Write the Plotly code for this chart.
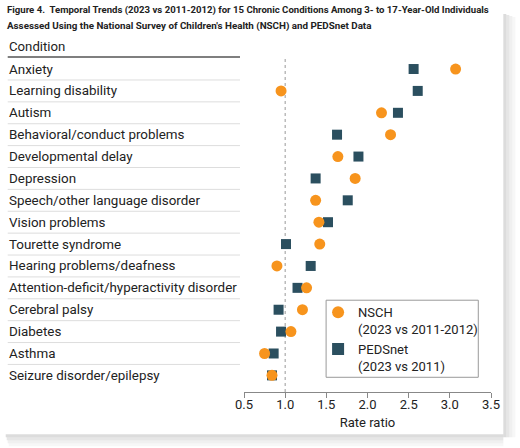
import plotly.graph_objects as go

conditions = [
    "Anxiety",
    "Learning disability",
    "Autism",
    "Behavioral/conduct problems",
    "Developmental delay",
    "Depression",
    "Speech/other language disorder",
    "Vision problems",
    "Tourette syndrome",
    "Hearing problems/deafness",
    "Attention-deficit/hyperactivity disorder",
    "Cerebral palsy",
    "Diabetes",
    "Asthma",
    "Seizure disorder/epilepsy",
]
nsch = [3.07, 0.95, 2.17, 2.28, 1.64, 1.85, 1.37, 1.41, 1.42, 0.90, 1.26, 1.21, 1.07, 0.75, 0.84]
pedsnet = [2.56, 2.61, 2.37, 1.63, 1.89, 1.37, 1.76, 1.52, 1.01, 1.31, 1.15, 0.92, 0.95, 0.86, 0.84]
tick_vals = [0.5, 1.0, 1.5, 2.0, 2.5, 3.0, 3.5]
tick_text = ["0.5", "1.0", "1.5", "2.0", "2.5", "3.0", "3.5"]

W, H = 520, 448
L, R = 244, 490.7
T, B = 57, 391.7
FONT = "Roboto"
TXT = "#222222"
ORANGE = "#f7941d"
TEAL = "#2b4f5f"


def px2x(px):
    return (px - L) / (R - L)


def py2y(py):
    return (B - py) / (B - T)


rows = list(range(len(conditions)))

fig = go.Figure()
fig.add_trace(go.Scatter(
    x=pedsnet, y=rows, mode="markers", name="PEDSnet<br>(2023 vs 2011)",
    marker=dict(symbol="square", size=10, color=TEAL), legendrank=2,
))
fig.add_trace(go.Scatter(
    x=nsch, y=rows, mode="markers", name="NSCH<br>(2023 vs 2011-2012)",
    marker=dict(symbol="circle", size=11, color=ORANGE), legendrank=1,
))

shapes = []
# card shadow
for i, op in enumerate([0.35, 0.25, 0.15, 0.08]):
    shapes.append(dict(type="rect", xref="paper", yref="paper",
                       x0=px2x(503 + i * 3), x1=px2x(506 + i * 3),
                       y0=py2y(437), y1=py2y(14 + i),
                       fillcolor="#9a9a9a", opacity=op, line=dict(width=0), layer="below"))
    shapes.append(dict(type="rect", xref="paper", yref="paper",
                       x0=px2x(6 + i), x1=px2x(503),
                       y0=py2y(434 + i * 3), y1=py2y(437 + i * 3),
                       fillcolor="#9a9a9a", opacity=op, line=dict(width=0), layer="below"))
# header rule
shapes.append(dict(type="line", xref="paper", yref="paper",
                   x0=px2x(8), x1=px2x(240), y0=1, y1=1,
                   line=dict(color="#555555", width=1.5)))
# row separators
for k in rows[:-1]:
    shapes.append(dict(type="line", xref="paper", yref="y",
                       x0=px2x(8), x1=px2x(240), y0=k + 0.5, y1=k + 0.5,
                       line=dict(color="#dddddd", width=1)))
# reference line at 1.0
shapes.append(dict(type="line", xref="x", yref="paper", x0=1.0, x1=1.0, y0=0, y1=1,
                   line=dict(color="#999999", width=1, dash="dot"), layer="below"))
# legend frame
shapes.append(dict(type="rect", xref="paper", yref="paper",
                   x0=px2x(326), x1=px2x(478), y0=py2y(377), y1=py2y(300),
                   fillcolor="white", line=dict(color="#999999", width=1), layer="below"))

annotations = [
    dict(xref="paper", yref="paper", x=px2x(5), y=py2y(10), xanchor="left", yanchor="middle",
         showarrow=False, align="left",
         text="<b>Figure 4.  Temporal Trends (2023 vs 2011-2012) for 15 Chronic Conditions Among 3- to 17-Year-Old Individuals</b>",
         font=dict(family=FONT, size=9.6, color=TXT)),
    dict(xref="paper", yref="paper", x=px2x(5), y=py2y(26), xanchor="left", yanchor="middle",
         showarrow=False, align="left",
         text="<b>Assessed Using the National Survey of Children's Health (NSCH) and PEDSnet Data</b>",
         font=dict(family=FONT, size=9.8, color=TXT)),
    dict(xref="paper", yref="paper", x=px2x(7), y=py2y(47), xanchor="left", yanchor="middle",
         showarrow=False, text="Condition", font=dict(family=FONT, size=13.2, color=TXT)),
]
for k, name in zip(rows, conditions):
    annotations.append(dict(xref="paper", yref="y", x=px2x(7), y=k, xanchor="left", yanchor="middle",
                            showarrow=False, text=name, font=dict(family=FONT, size=13.4, color=TXT)))

fig.update_layout(
    width=W, height=H, autosize=False,
    margin=dict(l=L, r=W - R, t=T, b=H - B, pad=0),
    paper_bgcolor="white", plot_bgcolor="white",
    showlegend=True,
    legend=dict(x=px2x(318), y=py2y(297), xanchor="left", yanchor="top",
                borderwidth=0, bgcolor="rgba(0,0,0,0)",
                font=dict(family=FONT, size=13, color=TXT), valign="top",
                traceorder="normal", itemsizing="constant", itemwidth=30),
    xaxis=dict(range=[0.5, 3.5], tickvals=tick_vals, ticktext=tick_text,
               ticks="outside", ticklen=5, tickcolor="#888888", showline=True,
               linecolor="#888888", linewidth=1, showgrid=False, zeroline=False,
               ticklabelstandoff=-5,
               tickfont=dict(family=FONT, size=13, color=TXT),
               title=dict(text="Rate ratio", font=dict(family=FONT, size=13, color=TXT), standoff=7)),
    yaxis=dict(range=[14.76, -0.55], showticklabels=False, showgrid=False,
               zeroline=False, showline=False),
    shapes=shapes, annotations=annotations,
)

fig.write_html("out.html", config={"displayModeBar": False},
               post_script="document.body.style.margin='0';")
